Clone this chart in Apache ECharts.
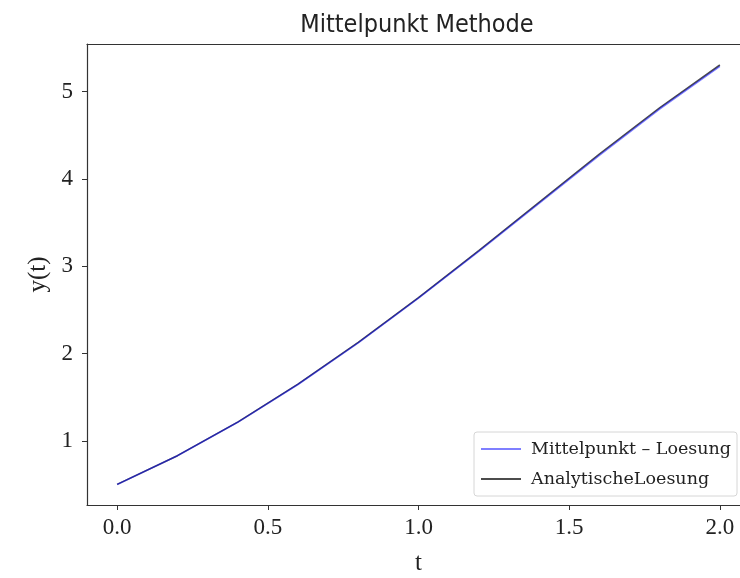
<!DOCTYPE html>
<html>
<head>
<meta charset="utf-8">
<script src="https://cdn.jsdelivr.net/npm/echarts@6/dist/echarts.min.js"></script>
<style>
  html, body { margin: 0; padding: 0; background: #fff; }
  #chart { width: 740px; height: 578px; }
</style>
</head>
<body>
<div id="chart"></div>
<script>
// Time steps (h = 0.2)
const tValues = [0.0, 0.2, 0.4, 0.6, 0.8, 1.0, 1.2, 1.4, 1.6, 1.8, 2.0];
// Midpoint method solution
const midpointValues = [0.5, 0.828, 1.2114, 1.6447, 2.1213, 2.6332, 3.1705, 3.7212, 4.2706, 4.8010, 5.2904];
// Analytic solution
const analyticValues = [0.5, 0.8293, 1.2141, 1.6489, 2.1272, 2.6409, 3.1799, 3.7324, 4.2835, 4.8152, 5.3055];
// Tick positions
const xTicks = [0.0, 0.5, 1.0, 1.5, 2.0];
const yTicks = [1, 2, 3, 4, 5];

const serif = "'Liberation Serif', 'DejaVu Serif', serif";
const wideSerif = "'DejaVu Serif', 'Liberation Serif', serif";
const axisColor = '#333';

const chart = echarts.init(document.getElementById('chart'), null, { renderer: 'canvas' });

chart.setOption({
  animation: false,
  backgroundColor: '#fff',
  title: {
    text: 'Mittelpunkt Methode',
    left: 412,
    textAlign: 'center',
    top: 8,
    textStyle: {
      fontFamily: "'DejaVu Sans Condensed', 'Liberation Sans Narrow', sans-serif",
      fontWeight: 'normal',
      fontSize: 25,
      color: '#222'
    }
  },
  grid: {
    left: 87,
    top: 44,
    width: 663,
    bottom: 73,
    show: false,
    containLabel: false,
    outerBoundsMode: 'none'
  },
  legend: {
    left: 474,
    top: 432,
    orient: 'vertical',
    itemGap: 12,
    itemWidth: 40,
    itemHeight: 2,
    padding: [8, 6, 8, 7],
    backgroundColor: '#fff',
    borderColor: '#d6d6d6',
    borderWidth: 1,
    borderRadius: 3,
    icon: 'rect',
    textStyle: { fontFamily: wideSerif, fontSize: 17.5, color: '#222', padding: [0, 0, 0, 5] },
    data: ['Mittelpunkt \u2013 Loesung', 'AnalytischeLoesung']
  },
  xAxis: [
    {
      type: 'value',
      min: -0.1,
      max: 2.1,
      name: 't',
      nameLocation: 'middle',
      nameGap: 46,
      nameTextStyle: { fontFamily: serif, fontSize: 25, color: '#222' },
      splitLine: { show: false },
      axisLine: { show: true, onZero: false, lineStyle: { color: axisColor, width: 1.2 } },
      axisTick: { show: true, length: 5, customValues: xTicks, lineStyle: { color: axisColor } },
      axisLabel: {
        customValues: xTicks,
        margin: 11,
        fontFamily: serif,
        fontSize: 23,
        color: '#222',
        formatter: v => v.toFixed(1)
      }
    },
    {
      // top frame line
      type: 'value',
      position: 'top',
      min: -0.1,
      max: 2.1,
      splitLine: { show: false },
      axisLine: { show: true, onZero: false, lineStyle: { color: axisColor, width: 1.2 } },
      axisTick: { show: false },
      axisLabel: { show: false }
    }
  ],
  yAxis: {
    type: 'value',
    min: 0.264,
    max: 5.546,
    name: 'y(t)',
    nameLocation: 'middle',
    nameGap: 36,
    nameRotate: 90,
    nameTextStyle: { fontFamily: serif, fontSize: 25, color: '#222' },
    splitLine: { show: false },
    axisLine: { show: true, onZero: false, lineStyle: { color: axisColor, width: 1.2 } },
    axisTick: { show: true, length: 5, customValues: yTicks, lineStyle: { color: axisColor } },
    axisLabel: {
      customValues: yTicks,
      margin: 14,
      fontFamily: serif,
      fontSize: 23,
      color: '#222'
    }
  },
  series: [
    {
      name: 'AnalytischeLoesung',
      type: 'line',
      data: tValues.map((t, i) => [t, analyticValues[i]]),
      showSymbol: false,
      z: 2,
      color: 'rgba(0,0,0,0.7)',
      lineStyle: { color: 'rgba(0,0,0,0.7)', width: 1.6 }
    },
    {
      name: 'Mittelpunkt \u2013 Loesung',
      type: 'line',
      data: tValues.map((t, i) => [t, midpointValues[i]]),
      showSymbol: false,
      z: 3,
      color: 'rgba(0,0,255,0.5)',
      lineStyle: { color: 'rgba(0,0,255,0.5)', width: 1.6 }
    }
  ]
});
</script>
</body>
</html>
